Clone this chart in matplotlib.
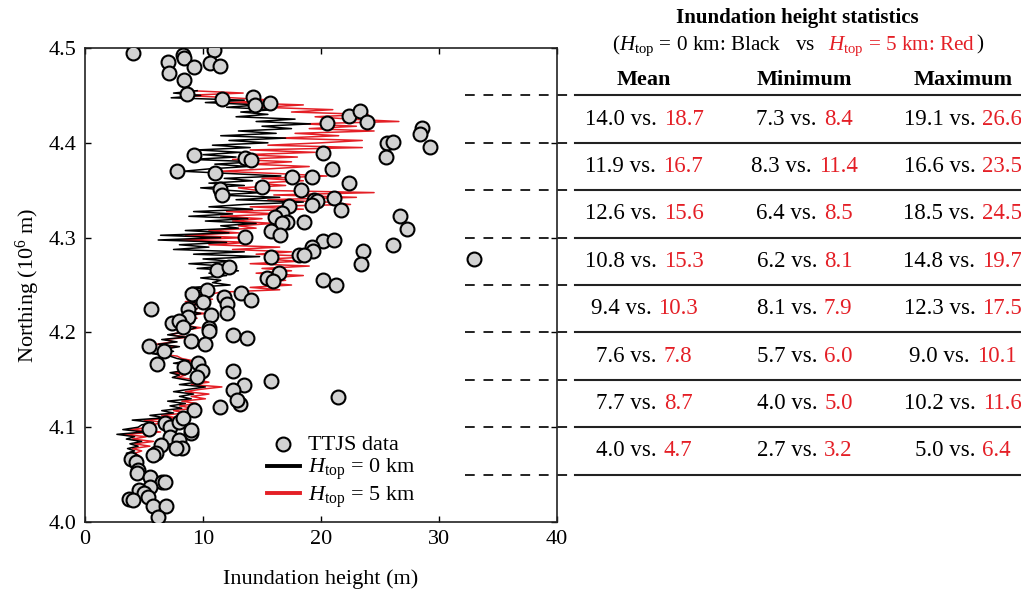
import numpy as np
import matplotlib
matplotlib.use('Agg')
import matplotlib.pyplot as plt
import matplotlib.transforms as mtransforms
from matplotlib.lines import Line2D
from matplotlib.offsetbox import TextArea, HPacker, AnnotationBbox

plt.rcParams['font.family'] = 'Liberation Serif'
plt.rcParams['mathtext.fontset'] = 'custom'
plt.rcParams['mathtext.rm'] = 'Liberation Serif'
plt.rcParams['mathtext.it'] = 'Liberation Serif:italic'
plt.rcParams['mathtext.bf'] = 'Liberation Serif:bold'
plt.rcParams['font.size'] = 16

RED = '#e41f26'

# ===== TTJS survey points (inundation height m, northing 10^6 m) =====
ttjs_height = [
    4.1, 8.3, 8.4, 10.9, 7.0, 9.2, 10.6, 11.4, 7.1, 8.4, 8.6, 11.6, 14.2, 14.4, 15.7,
    20.5, 22.4, 23.3, 23.9, 28.6, 28.4, 29.2, 25.6, 26.1, 25.5, 20.2,
    9.2, 13.6, 14.1,
    7.8, 11.0, 17.5, 15.0, 11.4, 11.6, 17.3, 16.7, 16.1, 17.1, 16.7, 15.8, 16.5, 13.6,
    15.8, 18.1, 11.2, 12.2, 16.4, 15.4, 15.9,
    20.9, 19.2, 22.4, 18.3, 21.1, 19.4, 19.7, 19.2, 21.7, 18.6, 26.7, 27.3, 26.1, 20.2,
    21.1, 19.2, 19.3, 18.6, 23.6, 23.4, 33.0, 20.2, 21.3, 21.4,
    9.1, 10.3, 10.0, 11.8, 12.0, 13.2, 14.1, 5.6, 8.7, 8.7, 10.7, 12.0, 7.4, 8.0, 8.3,
    10.5, 10.5, 9.0, 12.5, 13.7, 10.2, 5.4, 6.7, 6.1, 8.4, 9.6, 9.9, 9.5, 12.5, 15.8,
    13.5, 12.5,
    9.2, 11.4, 13.1, 12.9, 5.4, 6.8, 7.2, 8.0, 8.3, 9.0, 9.0, 7.2, 8.0, 6.4, 8.2, 7.7,
    6.0, 5.8, 3.9, 4.3, 4.5, 4.4, 5.5, 6.5, 6.8, 5.5, 4.6, 5.0, 5.3, 3.7, 4.1, 5.8,
    6.9, 6.2,
]
ttjs_north = [
    4.495, 4.493, 4.489, 4.498, 4.485, 4.480, 4.484, 4.481, 4.474, 4.466, 4.452, 4.446,
    4.448, 4.440, 4.442,
    4.421, 4.428, 4.434, 4.422, 4.416, 4.409, 4.396, 4.400, 4.401, 4.385, 4.389,
    4.387, 4.384, 4.382,
    4.370, 4.368, 4.364, 4.353, 4.351, 4.345, 4.333, 4.326, 4.322, 4.317, 4.315, 4.307,
    4.303, 4.301, 4.280, 4.282, 4.266, 4.269, 4.263, 4.257, 4.254,
    4.372, 4.364, 4.358, 4.350, 4.342, 4.340, 4.339, 4.334, 4.329, 4.317, 4.323, 4.309,
    4.292, 4.296, 4.297, 4.290, 4.286, 4.282, 4.286, 4.272, 4.277, 4.255, 4.250, 4.132,
    4.241, 4.245, 4.232, 4.237, 4.230, 4.242, 4.234, 4.225, 4.225, 4.216, 4.218, 4.220,
    4.210, 4.212, 4.206, 4.205, 4.201, 4.191, 4.197, 4.194, 4.188, 4.186, 4.180, 4.167,
    4.163, 4.168, 4.159, 4.153, 4.159, 4.149, 4.145, 4.139,
    4.118, 4.121, 4.124, 4.129, 4.098, 4.104, 4.100, 4.105, 4.110, 4.094, 4.097, 4.090,
    4.086, 4.081, 4.078, 4.078, 4.073, 4.071, 4.067, 4.063, 4.055, 4.052, 4.047, 4.042,
    4.042, 4.037, 4.034, 4.031, 4.026, 4.024, 4.023, 4.017, 4.017, 4.005,
]

# ===== simulated coastal profiles, north to south every 2.5 km =====
profile_start = 4.455
profile_step = 0.0025

h_top0 = [
    9.5, 7.5, 9.8, 7.3, 13.5, 10.2, 14.8, 12.0, 16.0, 13.2, 15.5,
    12.8, 17.8, 14.5, 19.1, 15.0, 17.5, 13.0, 16.2, 11.5, 17.0, 12.2,
    15.5, 10.8, 14.0, 9.5, 13.2, 10.0, 12.8, 9.0, 14.5, 11.0,
    13.8, 10.5, 8.3, 12.5, 16.6, 11.8, 14.2, 10.5, 13.5, 9.8,
    12.0, 15.0, 11.0, 16.5, 12.8, 18.5, 13.5, 10.5, 14.2, 9.2,
    12.5, 8.8, 13.8, 10.2, 14.5, 11.5, 13.0, 8.5, 12.2, 6.4,
    11.5, 6.2, 12.0, 8.0, 10.5, 7.5, 13.5, 9.2, 14.8, 10.0,
    12.5, 8.8, 11.8, 9.5, 13.0, 10.5, 12.0, 9.8, 11.5, 10.8,
    12.3, 9.0, 10.5, 8.5, 9.8, 8.8, 10.2, 9.0, 9.6, 8.4,
    9.5, 8.8, 9.8, 8.6, 9.4, 8.1, 9.2, 8.5, 9.4, 8.8,
    8.2, 7.0, 8.5, 6.5, 7.8, 6.2, 8.0, 6.8, 7.5, 5.7,
    7.2, 7.8, 8.8, 7.5, 9.0, 8.0, 8.5, 7.2, 8.0, 7.4,
    8.5, 9.5, 8.0, 10.2, 8.8, 7.5, 9.2, 8.0, 9.0, 7.0,
    8.5, 7.2, 8.2, 6.5, 7.5, 5.5, 6.8, 4.0, 5.8, 4.8,
    4.5, 3.2, 5.0, 2.7, 4.2, 3.5, 4.8, 3.8,
    4.5, 3.6, 4.2, 3.5, 4.0, 3.8, 4.3, 4.0,
]
h_top5 = [
    9.0, 13.4, 8.4, 12.5, 16.0, 12.2, 18.5, 15.0, 21.0, 17.5, 24.0,
    19.5, 22.5, 26.6, 18.5, 23.0, 19.0, 24.5, 17.8, 21.5, 16.5, 23.5,
    20.0, 15.5, 23.5, 14.0, 19.5, 13.5, 18.0, 12.5, 17.5, 14.0,
    19.0, 15.5, 11.4, 16.5, 20.5, 15.0, 18.5, 14.5, 17.0, 13.0,
    14.5, 24.5, 16.0, 23.0, 15.5, 20.5, 22.5, 14.0, 18.5, 12.0,
    16.5, 11.5, 15.0, 12.5, 16.0, 13.0, 14.5, 10.5, 13.0, 8.5,
    13.5, 8.1, 14.0, 10.5, 16.5, 12.5, 17.5, 14.5, 19.7, 15.5,
    18.0, 14.0, 19.0, 15.0, 17.5, 14.5, 18.5, 15.5, 17.0, 15.0,
    17.5, 14.0, 16.5, 11.5, 10.5, 9.0, 10.8, 8.5, 9.8, 8.8,
    9.5, 8.2, 10.2, 8.5, 9.5, 7.9, 9.0, 8.4, 9.8, 8.6,
    8.0, 7.2, 8.8, 6.8, 7.5, 6.0, 7.8, 6.5, 7.2, 6.2,
    7.8, 8.2, 9.2, 7.8, 10.1, 8.2, 9.0, 7.5, 8.5, 7.8,
    9.5, 10.5, 9.0, 11.6, 9.8, 8.5, 10.5, 9.0, 10.2, 8.2,
    9.5, 8.0, 9.2, 7.5, 8.5, 6.5, 7.8, 5.0, 6.8, 5.5,
    5.5, 3.8, 6.4, 3.2, 5.2, 4.0, 5.8, 4.2,
    5.5, 4.0, 4.8, 4.2, 4.6, 4.3, 4.8, 4.5,
]

# ===== statistics per 50 km band (north to south) =====
band_edges = [4.45, 4.40, 4.35, 4.30, 4.25, 4.20, 4.15, 4.10, 4.05]
mean_h0 = [14.0, 11.9, 12.6, 10.8, 9.4, 7.6, 7.7, 4.0]
mean_h5 = [18.7, 16.7, 15.6, 15.3, 10.3, 7.8, 8.7, 4.7]
min_h0 = [7.3, 8.3, 6.4, 6.2, 8.1, 5.7, 4.0, 2.7]
min_h5 = [8.4, 11.4, 8.5, 8.1, 7.9, 6.0, 5.0, 3.2]
max_h0 = [19.1, 16.6, 18.5, 14.8, 12.3, 9.0, 10.2, 5.0]
max_h5 = [26.6, 23.5, 24.5, 19.7, 17.5, 10.1, 11.6, 6.4]
col_names = ['Mean', 'Minimum', 'Maximum']
col_x = [0.631, 0.788, 0.943]

fig = plt.figure(figsize=(10.21, 5.93), dpi=100)
ax = fig.add_axes([0.0833, 0.1197, 0.4622, 0.7993])

north0 = profile_start - profile_step * np.arange(len(h_top0))
north5 = profile_start - profile_step * np.arange(len(h_top5))

ax.plot(h_top5, north5, color=RED, lw=1.1, zorder=2, label=r'$H_{\rm top}$ = 5 km')
ax.plot(h_top0, north0, color='black', lw=1.1, zorder=2.5, label=r'$H_{\rm top}$ = 0 km')
ax.scatter(ttjs_height, ttjs_north, s=100, facecolor='#d2d2d2', edgecolor='black',
           linewidths=1.5, zorder=3, label='TTJS data')

ax.set_xlim(0, 40)
ax.set_ylim(4.0, 4.5)
ax.set_xticks([0, 10, 20, 30, 40])
ax.set_yticks([4.0, 4.1, 4.2, 4.3, 4.4, 4.5])
ax.set_yticklabels(['4.0', '4.1', '4.2', '4.3', '4.4', '4.5'])
ax.tick_params(direction='in', top=True, right=True, length=4, width=1,
               labelsize=16, pad=6)
for sp in ax.spines.values():
    sp.set_linewidth(1.2)
    sp.set_color('#222222')
ax.set_xlabel('Inundation height (m)', fontsize=16, labelpad=14)
ax.set_ylabel(r'Northing (10$^6$ m)', fontsize=16, labelpad=5)

handles, labels = ax.get_legend_handles_labels()
order = [2, 1, 0]
leg = ax.legend([handles[i] for i in order], [labels[i] for i in order],
                loc='lower left', bbox_to_anchor=(0.385, 0.025), frameon=False,
                fontsize=16, handlelength=1.5, handletextpad=0.35, labelspacing=0.1,
                borderpad=0, borderaxespad=0, scatterpoints=1)
for hl in leg.get_lines():
    hl.set_linewidth(2.8)

# ===== statistics table to the right, rows tied to northing =====
blend = mtransforms.blended_transform_factory(fig.transFigure, ax.transData)

for yb in band_edges:
    fig.add_artist(Line2D([0.455, 0.563], [yb, yb], transform=blend, color='#222222',
                          lw=1.4, ls=(0, (5, 4.5)), clip_on=False))
    fig.add_artist(Line2D([0.563, 1.0], [yb, yb], transform=blend, color='#222222',
                          lw=1.5, clip_on=False))


def pair_box(a, b):
    return HPacker(children=[TextArea('%.1f vs.' % a, textprops=dict(color='black', fontsize=16.5)),
                             TextArea('%.1f' % b, textprops=dict(color=RED, fontsize=16.5))],
                   pad=0, sep=5, align='baseline')


for i in range(len(mean_h0)):
    ymid = (band_edges[i] + band_edges[i + 1]) / 2
    pairs = [(mean_h0[i], mean_h5[i]), (min_h0[i], min_h5[i]), (max_h0[i], max_h5[i])]
    for cx, (a, b) in zip(col_x, pairs):
        ab = AnnotationBbox(pair_box(a, b), (cx, ymid), xycoords=blend, frameon=False,
                            box_alignment=(0.5, 0.5), pad=0, annotation_clip=False)
        fig.add_artist(ab)

for cx, name in zip(col_x, col_names):
    fig.text(cx, 0.865, name, ha='center', va='center', fontsize=16, fontweight='bold')

fig.text(0.781, 0.969, 'Inundation height statistics', ha='center', va='center',
         fontsize=15, fontweight='bold')
subtitle = HPacker(children=[
    TextArea(r'($H_{\rm top}$ = 0 km: Black   vs   ', textprops=dict(color='black', fontsize=15.2)),
    TextArea(r'$H_{\rm top}$ = 5 km: Red', textprops=dict(color=RED, fontsize=15.2)),
    TextArea(')', textprops=dict(color='black', fontsize=15.2))],
    pad=0, sep=1, align='baseline')
fig.add_artist(AnnotationBbox(subtitle, (0.781, 0.923), xycoords='figure fraction',
                              frameon=False, box_alignment=(0.5, 0.5), pad=0))

fig.savefig('out.png', dpi=100)
